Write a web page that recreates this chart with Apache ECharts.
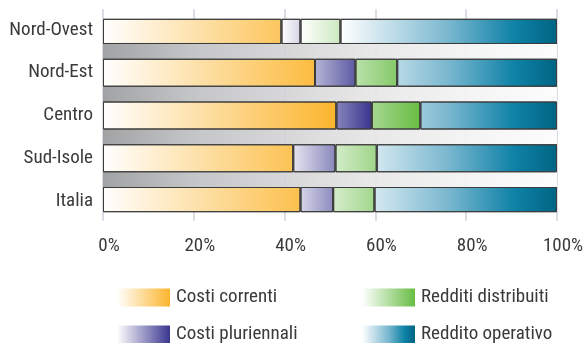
<!DOCTYPE html>
<html>
<head>
<meta charset="utf-8">
<script src="https://cdn.jsdelivr.net/npm/echarts@6/dist/echarts.min.js"></script>
<style>
  html, body { margin: 0; padding: 0; background: #fff; }
  #chart { width: 586px; height: 343px; }
</style>
</head>
<body>
<div id="chart"></div>
<script>
  // data (% of total)
  const categories = ['Nord-Ovest', 'Nord-Est', 'Centro', 'Sud-Isole', 'Italia'];
  const costiCorrenti = [39.3, 46.7, 51.4, 41.9, 43.5];
  const costiPluriennali = [4.2, 8.9, 7.8, 9.3, 7.2];
  const redditiDistribuiti = [8.8, 9.2, 10.7, 9.1, 9.1];
  const redditoOperativo = [47.7, 35.2, 30.1, 39.7, 40.2];
  const xTicks = [0, 20, 40, 60, 80, 100];

  const FONT = '"Roboto Condensed", Roboto, sans-serif';
  const WEIGHT = 400;
  const TEXT = '#3a3a3a';
  const GRID = '#dcdce4';

  // one row per region plus a grey band row between regions
  const rows = [];
  categories.forEach((c, i) => {
    rows.push(c);
    if (i < categories.length - 1) rows.push('_gap' + i);
  });
  const expand = arr => rows.map((r, j) => (j % 2 === 0 ? arr[j / 2] : '-'));
  const bands = rows.map((r, j) => (j % 2 === 1 ? 100 : '-'));

  const seriesDefs = [
    { name: 'Costi correnti', data: costiCorrenti, stops: [[0, '#ffffff'], [1, '#fbb52d']] },
    { name: 'Costi pluriennali', data: costiPluriennali, stops: [[0, '#ffffff'], [1, '#39368f']] },
    { name: 'Redditi distribuiti', data: redditiDistribuiti, stops: [[0, '#ffffff'], [1, '#68bd44']] },
    { name: 'Reddito operativo', data: redditoOperativo, stops: [[0, '#ffffff'], [0.5, '#79b7cf'], [0.8, '#0f82a7'], [1, '#006584']] },
  ];
  const greyStops = [[0, '#98999b'], [0.2, '#bfc0c2'], [0.4, '#d3d3d5'], [0.6, '#e7e7e8'], [0.8, '#f3f3f3'], [1, '#fdfdfd']];
  const legendPos = [[117, 288], [117, 325], [362, 288], [362, 325]];

  const grad = (stops, x0, x1, global) =>
    new echarts.graphic.LinearGradient(x0, 0, x1, 0, stops.map(s => ({ offset: s[0], color: s[1] })), global);

  const legends = seriesDefs.map((d, i) => ({
    left: legendPos[i][0],
    top: legendPos[i][1],
    padding: 0,
    icon: 'rect',
    itemWidth: 53,
    itemHeight: 18,
    selectedMode: false,
    textStyle: { fontFamily: FONT, fontWeight: WEIGHT, fontSize: 19, color: TEXT, padding: [0, 0, 0, 1] },
    data: [{ name: d.name, itemStyle: { color: grad(d.stops, 0, 1, false), borderWidth: 0 } }],
  }));

  const option = {
    animation: false,
    grid: { left: 103, right: 29, top: 19.3, height: 192.4, outerBoundsMode: 'none' },
    legend: legends,
    xAxis: [
      {
        type: 'value',
        min: 0,
        max: 100,
        interval: 20,
        axisLine: { show: false },
        axisTick: { show: true, length: 9, lineStyle: { color: GRID, width: 2 } },
        splitLine: { show: true, lineStyle: { color: GRID, width: 2 } },
        axisLabel: {
          fontFamily: FONT, fontWeight: WEIGHT, fontSize: 19, color: TEXT, margin: 25,
          padding: [0, 0, 0, 12],
          formatter: v => (xTicks.indexOf(v) >= 0 ? v + '%' : ''),
        },
      },
      {
        type: 'value',
        position: 'top',
        min: 0,
        max: 100,
        interval: 20,
        axisLine: { show: false },
        axisTick: { show: true, length: 10, lineStyle: { color: GRID, width: 2 } },
        splitLine: { show: false },
        axisLabel: { show: false },
      },
    ],
    yAxis: [
      {
        type: 'category',
        inverse: true,
        data: rows,
        axisLine: { show: false },
        axisTick: { show: false },
        axisLabel: {
          interval: 0,
          margin: 10,
          fontFamily: FONT, fontWeight: WEIGHT, fontSize: 19, color: TEXT,
          formatter: v => (v.indexOf('_gap') === 0 ? '' : v),
        },
      },
      {
        type: 'category',
        inverse: true,
        data: rows,
        show: false,
      },
    ],
    series: [
      {
        name: 'band',
        type: 'bar',
        yAxisIndex: 1,
        barWidth: 16,
        silent: true,
        data: bands,
        itemStyle: { color: '#ccc', opacity: 0.9 },
        z: 1,
      },
    ].concat(seriesDefs.map(d => ({
      name: d.name,
      type: 'bar',
      stack: 'tot',
      barWidth: 28,
      data: expand(d.data),
      itemStyle: { color: d.stops[d.stops.length - 1][1], borderColor: '#3c3c3c', borderWidth: 1 },
      z: 3,
    }))),
  };

  const chart = echarts.init(document.getElementById('chart'));
  chart.setOption(option);

  // gradients run across each series' whole span, in pixels from the x axis
  const px = v => chart.convertToPixel({ xAxisIndex: 0 }, v);
  const colors = [];
  let cum = categories.map(() => 0);
  seriesDefs.forEach(d => {
    const starts = cum.slice();
    cum = cum.map((c, i) => c + d.data[i]);
    const x0 = px(Math.min.apply(null, starts));
    const x1 = px(Math.max.apply(null, cum));
    colors.push(grad(d.stops, x0, x1, true));
  });
  chart.setOption({
    series: [{ itemStyle: { color: grad(greyStops, px(0), px(100), true), opacity: 0.9 } }]
      .concat(colors.map(c => ({ itemStyle: { color: c } }))),
  });
</script>
</body>
</html>
